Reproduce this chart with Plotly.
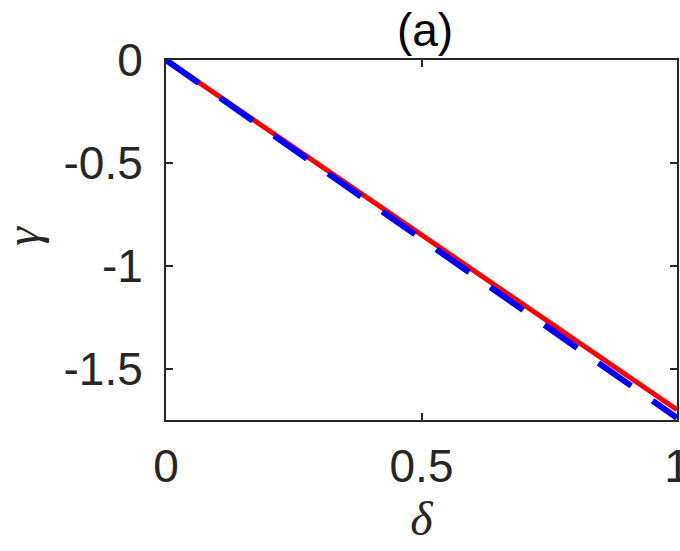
import plotly.graph_objects as go

delta_red = [0.0, 0.25, 0.5, 0.75, 1.0]
gamma_red = [0.0, -0.425, -0.85, -1.275, -1.70]
delta_blue = [0.0, 0.25, 0.5, 0.75, 1.0]
gamma_blue = [0.0, -0.435, -0.87, -1.305, -1.74]

x_ticks = [0, 0.5, 1]
x_ticklabels = ["0", "0.5", "1"]
y_ticks = [0, -0.5, -1, -1.5]
y_ticklabels = ["0", "-0.5", "-1", "-1.5"]

fig = go.Figure()
fig.add_trace(go.Scatter(x=delta_red, y=gamma_red, mode="lines",
                         line=dict(color="#ff0000", width=5), showlegend=False))
fig.add_trace(go.Scatter(x=delta_blue, y=gamma_blue, mode="lines",
                         line=dict(color="#0000ff", width=6, dash="40px,26px"), showlegend=False))

axis_common = dict(showgrid=False, zeroline=False, showline=True, linecolor="#262626",
                   linewidth=2, mirror="ticks", ticks="inside", ticklen=7, tickwidth=2,
                   tickcolor="#262626", automargin=False, ticklabeloverflow="allow",
                   tickfont=dict(family="Liberation Sans, Arial", size=46, color="#262626"))

fig.update_layout(
    width=680, height=551,
    margin=dict(l=166, r=3, t=60, b=131),
    paper_bgcolor="white", plot_bgcolor="white",
    title=dict(text="(a)", x=0.625, xanchor="center", y=0.945, yanchor="middle",
               font=dict(family="Liberation Sans, Arial", size=46, color="#000000")),
    xaxis=dict(range=[0, 1], tickvals=x_ticks, ticktext=x_ticklabels,
               title=dict(text="<i>δ</i>", standoff=0,
                          font=dict(family="Liberation Serif, Times New Roman", size=48, color="#262626")),
               ticklabelstandoff=5,
               **axis_common),
    yaxis=dict(range=[-1.75, 0], tickvals=y_ticks, ticktext=y_ticklabels,
               ticklabelstandoff=12,
               **axis_common),
    annotations=[dict(text="<i>γ</i>", xref="paper", yref="paper", x=-0.2818, y=0.511,
                      xanchor="center", yanchor="middle", textangle=-90, showarrow=False,
                      font=dict(family="Liberation Serif, Times New Roman", size=48, color="#262626"))],
)

fig.write_html("out.html", config={"displayModeBar": False},
               post_script="document.body.style.margin='0';document.body.style.overflow='hidden';")
